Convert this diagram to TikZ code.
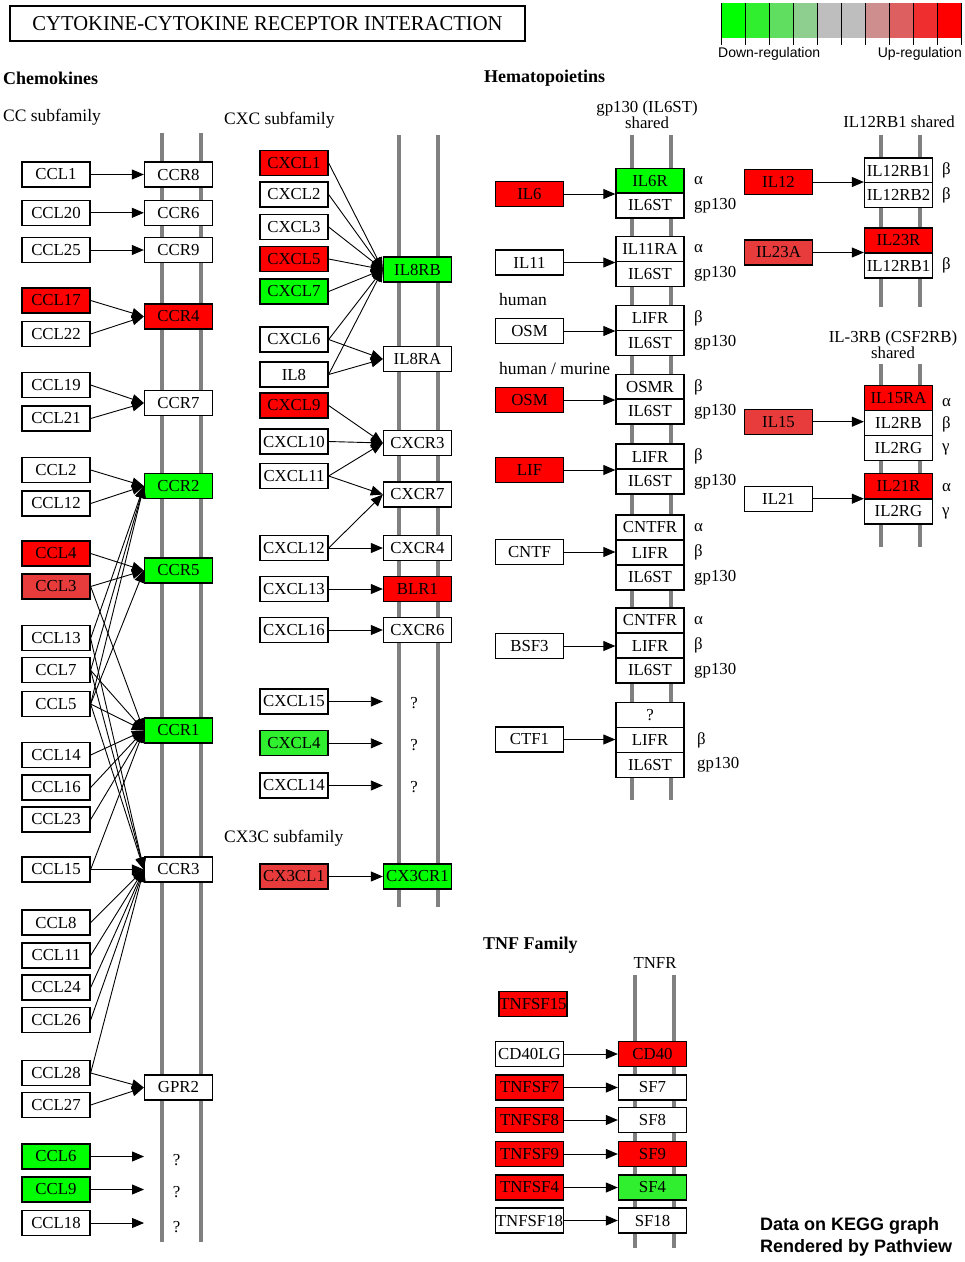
\documentclass[tikz,border=0pt]{standalone}
\usepackage{fontspec}
\setmainfont{Liberation Serif}
\newfontfamily\kgsans{Liberation Sans}
\usepackage{graphicx}
\usetikzlibrary{arrows.meta}
\definecolor{kred}{RGB}{255,0,0}
\definecolor{klred}{RGB}{232,60,60}
\definecolor{kgreen}{RGB}{0,255,0}
\definecolor{klgreen}{RGB}{47,239,47}
\definecolor{kgray}{RGB}{128,128,128}
\definecolor{lgA}{RGB}{0,255,0}
\definecolor{lgB}{RGB}{47,239,47}
\definecolor{lgC}{RGB}{95,222,95}
\definecolor{lgD}{RGB}{142,206,142}
\definecolor{lgE}{RGB}{190,190,190}
\definecolor{lgF}{RGB}{190,190,190}
\definecolor{lgG}{RGB}{206,142,142}
\definecolor{lgH}{RGB}{222,95,95}
\definecolor{lgI}{RGB}{239,47,47}
\definecolor{lgJ}{RGB}{255,0,0}
\newcommand\kgfont{\fontsize{16.8}{16.8}\selectfont}
\begin{document}
\begin{tikzpicture}[x=1pt,y=-1pt,
  gene/.style={draw=black, line width=1.3pt, fill=white, minimum width=68pt, minimum height=25pt, inner sep=0pt, font=\kgfont},
  rd/.style={fill=kred}, lr/.style={fill=klred}, gr/.style={fill=kgreen}, lg/.style={fill=klgreen},
  qbox/.style={minimum width=65pt, minimum height=25pt, inner sep=0pt, font=\kgfont},
  arr/.style={-{Triangle[length=12pt,width=10pt]}, line width=0.9pt},
  membrane/.style={draw=kgray, line width=4.5pt},
  lbl/.style={font=\kgfont, inner sep=0pt},
  head/.style={font=\fontsize{18}{18}\selectfont\bfseries, inner sep=0pt, anchor=west},
  sub/.style={font=\fontsize{17.5}{17.5}\selectfont, inner sep=0pt, anchor=west},
  grk/.style={font=\kgfont, inner sep=0pt, anchor=west}]
\path[use as bounding box] (0,0) rectangle (965,1262);

% ---------- title and legend ----------
\node[draw, line width=2pt, minimum width=515pt, minimum height=35pt, inner sep=0pt] (title) at (267.5,23.5)
  {\raisebox{-1pt}{\resizebox{470pt}{14pt}{CYTOKINE-CYTOKINE RECEPTOR INTERACTION}}};
\foreach \c [count=\i from 0] in {lgA,lgB,lgC,lgD,lgE,lgF,lgG,lgH,lgI,lgJ}
  \fill[\c] (721+\i*24,3) rectangle ++(24,35);
\foreach \i in {0,...,10}
  \draw[line width=0.8pt] (721+\i*24,3) -- (721+\i*24,45);
\node[font=\kgsans\fontsize{14}{14}\selectfont, inner sep=0pt, anchor=west] (down) at (718,54) {Down-regulation};
\node[font=\kgsans\fontsize{14}{14}\selectfont, inner sep=0pt, anchor=east] (upr) at (962,54) {Up-regulation};

% ---------- headings ----------
\node[head] (hchem) at (3,78) {Chemokines};
\node[head] (hhem) at (484,78) {Hematopoietins};
\node[head] (htnf) at (483,945) {TNF Family};
\node[sub] (hcc) at (3,117) {CC subfamily};
\node[sub] (hcxc) at (224,120) {CXC subfamily};
\node[sub] (hcx3c) at (224,838) {CX3C subfamily};
\node[lbl, align=center] (hgp) at (647,115) {gp130 (IL6ST)\\[-1pt]shared};
\node[lbl] (hil12) at (899,122) {IL12RB1 shared};
\node[lbl, align=center] (hil3) at (893,345) {IL-3RB (CSF2RB)\\[-1pt]shared};
\node[sub] (hhum) at (499,300) {human};
\node[sub] (hhm) at (499,369) {human / murine};
\node[lbl] (htnfr) at (655,963) {TNFR};

% ---------- membranes ----------
\draw[membrane] (162,133) -- (162,1242);
\draw[membrane] (201,133) -- (201,1242);
\draw[membrane] (399,135) -- (399,907);
\draw[membrane] (438,135) -- (438,907);
\draw[membrane] (632,135) -- (632,800);
\draw[membrane] (671,135) -- (671,800);
\draw[membrane] (881,135) -- (881,307);
\draw[membrane] (920,135) -- (920,307);
\draw[membrane] (881,364) -- (881,547);
\draw[membrane] (920,364) -- (920,547);
\draw[membrane] (635,975) -- (635,1248);
\draw[membrane] (674,975) -- (674,1248);

% ---------- CC subfamily ----------
\foreach \n/\y/\s in {CCL1/174.5/, CCL20/212.8/, CCL25/250/, CCL17/300.5/rd, CCL22/334/, CCL19/385/, CCL21/418.5/,
  CCL2/470/, CCL12/503.5/, CCL4/553.5/rd, CCL3/586.5/lr, CCL13/638.3/, CCL7/670.3/, CCL5/704/, CCL14/755/,
  CCL16/787.5/, CCL23/819.5/, CCL15/869.5/, CCL8/922.5/, CCL11/955.5/, CCL24/987.5/, CCL26/1020/,
  CCL28/1073/, CCL27/1105/, CCL6/1156.5/gr, CCL9/1189.5/gr, CCL18/1223/}
  \node[gene,\s] (\n) at (56,\y) {\n};
\foreach \n/\y/\s in {CCR8/174.5/, CCR6/212.8/, CCR9/250/, CCR4/316.5/rd, CCR7/403/, CCR2/486/gr,
  CCR5/570.5/gr, CCR1/730.5/gr, CCR3/869.5/, GPR2/1087.5/}
  \node[gene,\s] (\n) at (178.5,\y) {\n};
\node[qbox] (qa) at (176.7,1160) {?};
\node[qbox] (qb) at (176.7,1191.7) {?};
\node[qbox] (qc) at (176.7,1226.7) {?};

\foreach \s/\t in {CCL1/CCR8, CCL20/CCR6, CCL25/CCR9, CCL17/CCR4, CCL22/CCR4, CCL19/CCR7, CCL21/CCR7,
  CCL2/CCR2, CCL12/CCR2, CCL13/CCR2, CCL7/CCR2, CCL5/CCR2, CCL4/CCR5, CCL3/CCR5, CCL5/CCR5,
  CCL3/CCR1, CCL7/CCR1, CCL5/CCR1, CCL14/CCR1, CCL16/CCR1, CCL23/CCR1, CCL15/CCR1,
  CCL13/CCR3, CCL7/CCR3, CCL5/CCR3, CCL15/CCR3, CCL8/CCR3, CCL11/CCR3, CCL24/CCR3, CCL26/CCR3, CCL28/CCR3,
  CCL28/GPR2, CCL27/GPR2}
  \draw[arr] (\s.east) -- (\t.west);
\draw[arr] (CCL6.east) -- (CCL6.east -| qa.west);
\draw[arr] (CCL9.east) -- (CCL9.east -| qb.west);
\draw[arr] (CCL18.east) -- (CCL18.east -| qc.west);

% ---------- CXC subfamily ----------
\foreach \n/\y/\s in {CXCL1/163/rd, CXCL2/194.5/, CXCL3/227/, CXCL5/259/rd, CXCL7/291.5/gr, CXCL6/339.5/,
  IL8/374.5/, CXCL9/405.5/rd, CXCL10/441.5/, CXCL11/476/, CXCL12/548/, CXCL13/589/, CXCL16/630/,
  CXCL15/701.5/, CXCL4/743.3/lg, CXCL14/785.5/, CX3CL1/876.5/lr}
  \node[gene,\s] (\n) at (294,\y) {\n};
\foreach \n/\y/\s in {IL8RB/269.5/gr, IL8RA/359/, CXCR3/443/, CXCR7/494.5/, CXCR4/548/, BLR1/589/rd,
  CXCR6/630/, CX3CR1/876.5/gr}
  \node[gene,\s] (\n) at (417.5,\y) {\n};
\node[qbox, minimum width=62pt] (qd) at (414,703) {?};
\node[qbox, minimum width=62pt] (qe) at (414,745) {?};
\node[qbox, minimum width=62pt] (qf) at (414,787) {?};
\foreach \s/\t in {CXCL1/IL8RB, CXCL2/IL8RB, CXCL3/IL8RB, CXCL5/IL8RB, CXCL7/IL8RB, CXCL6/IL8RB, CXCL6/IL8RA,
  IL8/IL8RB, IL8/IL8RA, CXCL9/CXCR3, CXCL10/CXCR3, CXCL11/CXCR3, CXCL11/CXCR7, CXCL12/CXCR7, CXCL12/CXCR4,
  CXCL13/BLR1, CXCL16/CXCR6, CX3CL1/CX3CR1}
  \draw[arr] (\s.east) -- (\t.west);
\draw[arr] (CXCL15.east) -- (CXCL15.east -| qd.west);
\draw[arr] (CXCL4.east) -- (CXCL4.east -| qe.west);
\draw[arr] (CXCL14.east) -- (CXCL14.east -| qf.west);

% ---------- Hematopoietins ----------
\node[gene,rd] (IL6) at (529.5,194) {IL6};
\node[gene] (IL11) at (529.5,262.5) {IL11};
\node[gene] (OSMa) at (529.5,331) {OSM};
\node[gene,rd] (OSMb) at (529.5,400) {OSM};
\node[gene,rd] (LIF) at (529.5,470) {LIF};
\node[gene] (CNTF) at (529.5,552) {CNTF};
\node[gene] (BSF3) at (529.5,646) {BSF3};
\node[gene] (CTF1) at (529.5,739.5) {CTF1};

\node[gene,gr] (IL6R) at (650,181) {IL6R};
\node[gene] (IL6STa) at (650,205.5) {IL6ST};
\node[gene] (IL11RA) at (650,249) {IL11RA};
\node[gene] (IL6STb) at (650,274) {IL6ST};
\node[gene] (LIFRc) at (650,318) {LIFR};
\node[gene] (IL6STc) at (650,343) {IL6ST};
\node[gene] (OSMR) at (650,387) {OSMR};
\node[gene] (IL6STd) at (650,411.5) {IL6ST};
\node[gene] (LIFRe) at (650,456.5) {LIFR};
\node[gene] (IL6STe) at (650,481.5) {IL6ST};
\node[gene] (CNTFRf) at (650,527.5) {CNTFR};
\node[gene] (LIFRf) at (650,552.5) {LIFR};
\node[gene] (IL6STf) at (650,577.5) {IL6ST};
\node[gene] (CNTFRg) at (650,620.5) {CNTFR};
\node[gene] (LIFRg) at (650,645.5) {LIFR};
\node[gene] (IL6STg) at (650,670.5) {IL6ST};
\node[gene] (QRh) at (650,715) {?};
\node[gene] (LIFRh) at (650,740) {LIFR};
\node[gene] (IL6STh) at (650,765) {IL6ST};

\foreach \n/\y/\t in {IL6R/181/α, IL6STa/205.5/gp130, IL11RA/249/α, IL6STb/274/gp130, LIFRc/318/β,
  IL6STc/343/gp130, OSMR/387/β, IL6STd/411.5/gp130, LIFRe/456.5/β, IL6STe/481.5/gp130, CNTFRf/527.5/α,
  LIFRf/552.5/β, IL6STf/577.5/gp130, CNTFRg/620.5/α, LIFRg/645.5/β, IL6STg/670.5/gp130}
  \node[grk] (g\n) at (694,\y) {\t};
\node[grk] (gLIFRh) at (697,740) {β};
\node[grk] (gIL6STh) at (697,765) {gp130};

\draw[arr] (IL6.east) -- (IL6.east -| IL6R.west);
\draw[arr] (IL11.east) -- (IL11.east -| IL11RA.west);
\draw[arr] (OSMa.east) -- (OSMa.east -| LIFRc.west);
\draw[arr] (OSMb.east) -- (OSMb.east -| OSMR.west);
\draw[arr] (LIF.east) -- (LIF.east -| LIFRe.west);
\draw[arr] (CNTF.east) -- (CNTF.east -| LIFRf.west);
\draw[arr] (BSF3.east) -- (BSF3.east -| LIFRg.west);
\draw[arr] (CTF1.east) -- (CTF1.east -| LIFRh.west);

\node[gene,rd] (IL12) at (778.5,182) {IL12};
\node[gene,lr] (IL23A) at (778.5,252.5) {IL23A};
\node[gene,lr] (IL15) at (778.5,421.7) {IL15};
\node[gene] (IL21) at (778.5,498.7) {IL21};

\node[gene] (IL12RB1a) at (898.5,170.5) {IL12RB1};
\node[gene] (IL12RB2) at (898.5,195) {IL12RB2};
\node[gene,rd] (IL23R) at (898.5,240.5) {IL23R};
\node[gene] (IL12RB1b) at (898.5,265.5) {IL12RB1};
\node[gene,rd] (IL15RA) at (898.5,398) {IL15RA};
\node[gene] (IL2RB) at (898.5,423) {IL2RB};
\node[gene] (IL2RGa) at (898.5,448) {IL2RG};
\node[gene,rd] (IL21R) at (898.5,486) {IL21R};
\node[gene] (IL2RGb) at (898.5,511.5) {IL2RG};

\foreach \n/\y/\t in {IL12RB1a/170.5/β, IL12RB2/195/β, IL12RB1b/265.5/β, IL15RA/403/α, IL2RB/424/β,
  IL2RGa/449/γ, IL21R/488/α, IL2RGb/513/γ}
  \node[grk] (g\n) at (942,\y) {\t};

\draw[arr] (IL12.east) -- (IL12.east -| IL12RB1a.west);
\draw[arr] (IL23A.east) -- (IL23A.east -| IL23R.west);
\draw[arr] (IL15.east) -- (IL15.east -| IL2RB.west);
\draw[arr] (IL21.east) -- (IL21.east -| IL21R.west);

% ---------- TNF family ----------
\node[gene,rd] (TNFSF15) at (533,1004) {TNFSF15};
\foreach \n/\y/\s in {CD40LG/1054/, TNFSF7/1087.5/rd, TNFSF8/1120/rd, TNFSF9/1154/rd, TNFSF4/1187.5/rd, TNFSF18/1220.5/}
  \node[gene,\s] (\n) at (529.5,\y) {\n};
\foreach \n/\y/\s in {CD40/1054/rd, SF7/1087.5/, SF8/1120/, SF9/1154/rd, SF4/1187.5/lg, SF18/1220.5/}
  \node[gene,\s] (\n) at (652.5,\y) {\n};
\foreach \s/\t in {CD40LG/CD40, TNFSF7/SF7, TNFSF8/SF8, TNFSF9/SF9, TNFSF4/SF4, TNFSF18/SF18}
  \draw[arr] (\s.east) -- (\t.west);

% ---------- credits ----------
\node[font=\kgsans\bfseries\fontsize{18}{18}\selectfont, inner sep=0pt, anchor=west] (cred1) at (760,1226) {Data on KEGG graph};
\node[font=\kgsans\bfseries\fontsize{18}{18}\selectfont, inner sep=0pt, anchor=west] (cred2) at (760,1248) {Rendered by Pathview};
\end{tikzpicture}
\end{document}
